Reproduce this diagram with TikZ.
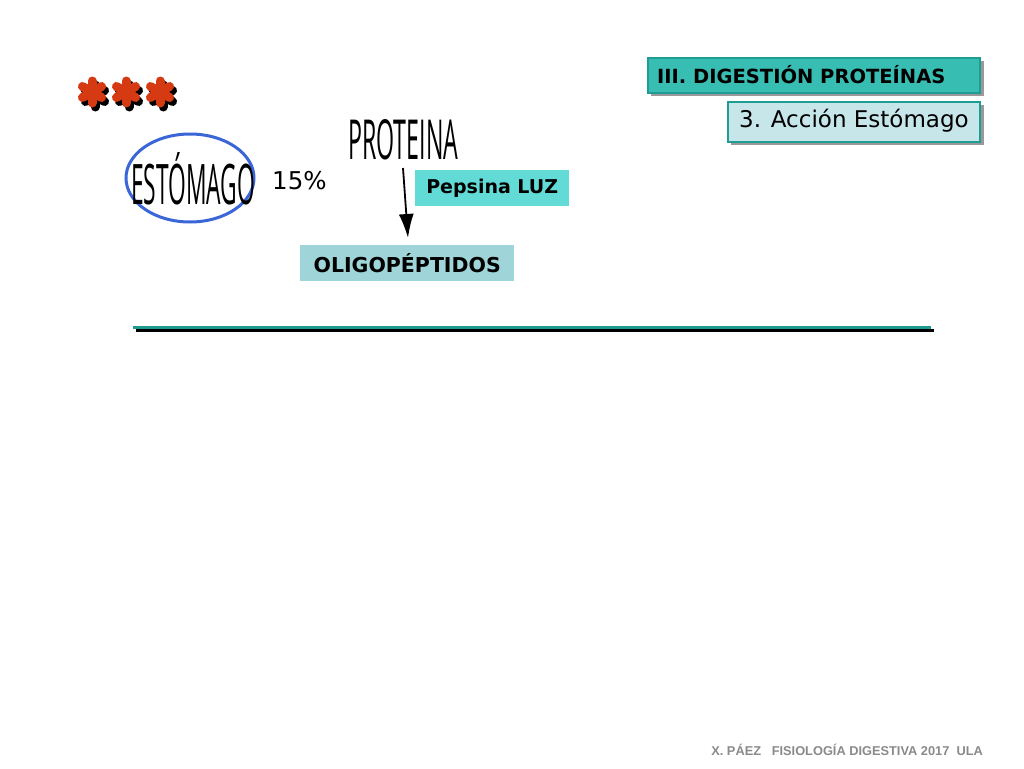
\documentclass[tikz,border=0pt]{standalone}
\usepackage{fontspec}
\usetikzlibrary{arrows.meta}
\setmainfont{DejaVu Sans}
\newfontfamily\handfont{Open Sans}
\newfontfamily\footfont{Liberation Sans}
\definecolor{tealA}{HTML}{38BDB3}
\definecolor{tealB}{HTML}{1F9C94}
\definecolor{paleB}{HTML}{C6E6E9}
\definecolor{cyanP}{HTML}{62DAD6}
\definecolor{oligoC}{HTML}{9FD4D8}
\definecolor{starR}{HTML}{D63A12}
\definecolor{ovalB}{HTML}{3B66D8}
\definecolor{lineT}{HTML}{1E9A8E}
\definecolor{footG}{HTML}{8A8A8A}
\tikzset{
  titlebox/.style={draw=tealB, line width=1.6pt, fill=tealA, minimum width=332pt, minimum height=35pt, inner sep=0pt},
  subbox/.style={draw=tealB, line width=1.6pt, fill=paleB, minimum width=252pt, minimum height=40pt, inner sep=0pt},
  labelbox/.style={inner sep=0pt, font=\bfseries\fontsize{19}{22}\selectfont},
  hand/.style={font=\handfont, inner sep=0pt},
  arm/.style={line width=9pt, line cap=round}
}
\begin{document}
\begin{tikzpicture}[x=1pt,y=-1pt]
\useasboundingbox (0,0) rectangle (1024,768);
\fill[white] (0,0) rectangle (1024,768);
% stars
\foreach \cx in {92,126,160}{
  \begin{scope}[shift={(\cx+3,96)}]
    \fill[black] (0,0) circle (7);
    \foreach \a in {30,90,...,330} \draw[arm, black] (0,0) -- (\a:11);
  \end{scope}
  \begin{scope}[shift={(\cx,92)}]
    \fill[starR] (0,0) circle (7);
    \foreach \a in {30,90,...,330} \draw[arm, starR] (0,0) -- (\a:11);
  \end{scope}
}
% header boxes
\fill[black!40] (651,61) rectangle (984,96);
\node[titlebox, anchor=north west] (t1) at (647,57) {};
\node[anchor=west, font=\bfseries\fontsize{19.5}{22}\selectfont, inner sep=0pt] (t1txt) at (657,74.5) {III. DIGESTIÓN PROTEÍNAS};
\fill[black!40] (731,105) rectangle (984,145);
\node[subbox, anchor=north west] (t2) at (727,101) {};
\node[anchor=west, font=\fontsize{23}{26}\selectfont, inner sep=0pt] (t2txt) at (739,121) {3. Acción Estómago};
% estomago
\draw[ovalB, line width=3pt] (190,178) ellipse (64 and 44);
\node[hand, anchor=south west] (esto) at (131,205) {\resizebox{124pt}{52pt}{ESTÓMAGO}};
\node[anchor=west, font=\fontsize{24.5}{28}\selectfont, inner sep=0pt] (pct) at (272,181) {15\%};
% proteina
\node[hand, anchor=south west] (prot) at (348,160) {\resizebox{110pt}{40pt}{PROTEINA}};
% pepsina
\node[labelbox, fill=cyanP, minimum width=154pt, minimum height=36pt, anchor=north west] (peps) at (415,170) {Pepsina LUZ};
\node[labelbox, fill=oligoC, minimum width=214pt, minimum height=36pt, anchor=north west, font=\bfseries\fontsize{20.5}{22}\selectfont] (oligo) at (300,245) {OLIGOPÉPTIDOS};
\coordinate (astart) at (403,168);
\coordinate (aend) at (408,238);
\draw[black, line width=1.8pt, -{Latex[length=24pt,width=15pt]}] (astart) -- (aend);
% rule
\coordinate (r1) at (133,327);
\coordinate (r2) at (931,327);
\coordinate (s1) at (136,330.5);
\coordinate (s2) at (934,330.5);
\draw[black, line width=3pt] (s1) -- (s2);
\draw[lineT, line width=3pt] (r1) -- (r2);
% footer
\node[anchor=east, font=\footfont\bfseries\fontsize{12.8}{15}\selectfont, text=footG, inner sep=0pt] (foot) at (983,750) {X. PÁEZ \ \ FISIOLOGÍA DIGESTIVA 2017 \ ULA};
\end{tikzpicture}
\end{document}
